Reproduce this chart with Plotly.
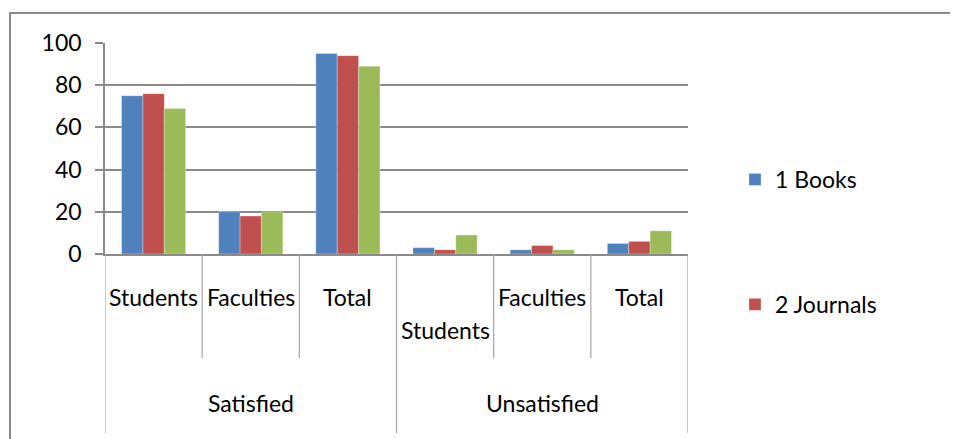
import plotly.graph_objects as go

groups = ["Satisfied", "Satisfied", "Satisfied", "Unsatisfied", "Unsatisfied", "Unsatisfied"]
subcats = ["Students", "Faculties", "Total", "Students", "Faculties", "Total"]
books = [75, 20, 95, 3, 2, 5]
journals = [76, 18, 94, 2, 4, 6]
third = [69, 20, 89, 9, 2, 11]
series_names = ["1 Books", "2 Journals", "3"]
colors = ["#4F81BD", "#C0504D", "#9BBB59"]
yticks = [0, 20, 40, 60, 80, 100]

FONT = "Lato"
FS = 23
GRAY = "#8a8a8a"
LGRAY = "#a6a6a6"

pos = list(range(len(subcats)))

fig = go.Figure()
for i, (name, vals) in enumerate(zip(series_names, [books, journals, third])):
    fig.add_trace(go.Bar(
        x=pos, y=vals, name=name, marker_color=colors[i],
        marker_line=dict(color="rgba(255,255,255,0.6)", width=0.5),
        legendgroup=f"g{i}", showlegend=(i < 2),
    ))

# geometry (pixels in the screenshot); the page body adds an 8px offset
OFF = 8
L, R, T, B = 105 - OFF, 688 - OFF, 43 - OFF, 254 - OFF
W, H = 958, 439
def py(p):
    return (B - (p - OFF)) / (B - T)
def px(p):
    return ((p - OFF) - L) / (R - L)

shapes = []
# outer chart border
shapes.append(dict(type="rect", xref="paper", yref="paper",
                   x0=px(10), x1=px(1200), y0=py(13), y1=py(700),
                   line=dict(color=GRAY, width=2), layer="below"))
# category dividers
n = len(subcats)
for k in range(n + 1):
    xb = k - 0.5
    is_group = (k == 0 or k == n or groups[k] != groups[k - 1])
    yend = py(433) if is_group else py(358)
    shapes.append(dict(type="line", xref="x", yref="paper",
                       x0=xb, x1=xb, y0=0, y1=yend,
                       line=dict(color=LGRAY, width=1.2)))

annotations = []
for k, lab in enumerate(subcats):
    yy = py(297)
    if groups[k] == "Unsatisfied" and lab == "Students":
        yy = py(330)
    annotations.append(dict(x=k, y=yy, xref="x", yref="paper", text=lab,
                            showarrow=False, font=dict(family=FONT, size=FS, color="black"),
                            xanchor="center", yanchor="middle"))
# group labels
seen = []
for g in groups:
    if g not in seen:
        seen.append(g)
for g in seen:
    idx = [k for k, gg in enumerate(groups) if gg == g]
    xc = (idx[0] + idx[-1]) / 2
    annotations.append(dict(x=xc, y=py(403), xref="x", yref="paper", text=g,
                            showarrow=False, font=dict(family=FONT, size=FS, color="black"),
                            xanchor="center", yanchor="middle"))

fig.update_layout(
    width=W, height=H,
    margin=dict(l=L, r=W - R, t=T, b=H - B, autoexpand=False),
    paper_bgcolor="white", plot_bgcolor="white",
    barmode="group", bargap=0.34, bargroupgap=0,
    font=dict(family=FONT, size=FS, color="black"),
    xaxis=dict(range=[-0.5, n - 0.5], showticklabels=False, showgrid=False,
               zeroline=False, showline=True, linecolor=GRAY, linewidth=1.5, ticks=""),
    yaxis=dict(range=[0, 100], tickvals=yticks, showgrid=True, gridcolor=GRAY, gridwidth=1.5,
               zeroline=False, showline=True, linecolor=GRAY, linewidth=1.5,
               ticks="outside", ticklen=8, tickcolor=GRAY, tickwidth=1.5,
               ticklabelstandoff=9, tickfont=dict(family=FONT, size=FS, color="black")),
    legend=dict(x=px(735), y=py(158), xanchor="left", yanchor="top",
                font=dict(family=FONT, size=FS), traceorder="grouped",
                tracegroupgap=92, bgcolor="rgba(0,0,0,0)"),
    shapes=shapes, annotations=annotations,
)

fig.write_html("out.html")
